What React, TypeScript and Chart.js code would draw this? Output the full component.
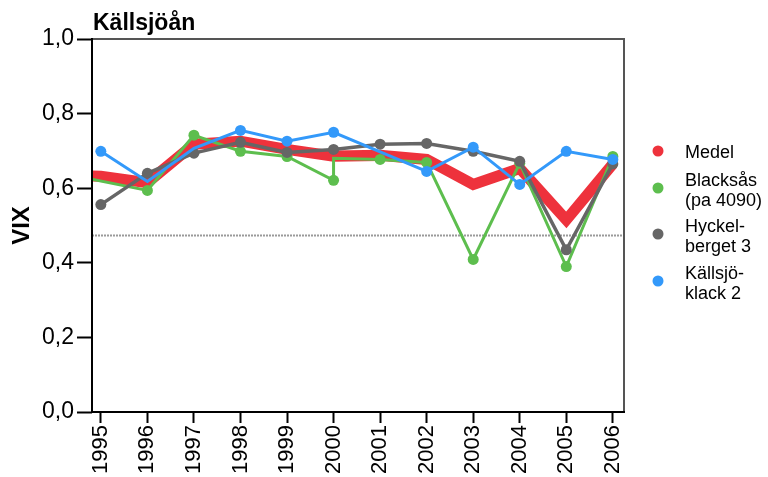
import React, { useEffect, useRef } from "react";
import { Chart, registerables } from "chart.js";

Chart.register(...registerables);

const titleText = "Källsjöån";
const yTitle = "VIX";
const tickYears = [1995, 1996, 1997, 1998, 1999, 2000, 2001, 2002, 2003, 2004, 2005, 2006];
const yTicks = [0, 0.2, 0.4, 0.6, 0.8, 1.0];

const medelYears = [1994, 1995, 1996, 1997, 1998, 1999, 2000, 2001, 2002, 2003, 2004, 2005, 2006];
const medelValues = [0.636, 0.632, 0.615, 0.718, 0.726, 0.704, 0.686, 0.688, 0.677, 0.61, 0.653, 0.515, 0.665];

const blackYears = [1994, 1996, 1997, 1998, 1999, 2000, 2000, 2001, 2002, 2003, 2004, 2005, 2006];
const blackValues = [0.644, 0.594, 0.742, 0.699, 0.685, 0.621, 0.68, 0.677, 0.669, 0.409, 0.667, 0.39, 0.685];
const blackMarkers = [false, true, true, true, true, true, false, true, true, true, true, true, true];

const hyckYears = [1995, 1996, 1997, 1998, 1999, 2000, 2001, 2002, 2003, 2004, 2005, 2006];
const hyckValues = [0.556, 0.64, 0.694, 0.723, 0.696, 0.704, 0.718, 0.72, 0.699, 0.672, 0.435, 0.665];

const kallYears = [1995, 1996, 1997, 1998, 1999, 2000, 2002, 2003, 2004, 2005, 2006];
const kallValues = [0.699, 0.618, 0.707, 0.755, 0.726, 0.75, 0.645, 0.71, 0.61, 0.699, 0.677];
const kallMarkers = [true, false, false, true, true, true, true, true, true, true, true];

const refLineValue = 0.473;
const xMin = 1994.81;
const xMax = 2006.24;

const legendItems = [
  { lines: ["Medel"], color: "#EE323C" },
  { lines: ["Blacksås", "(pa 4090)"], color: "#5DBE4E" },
  { lines: ["Hyckel-", "berget 3"], color: "#666666" },
  { lines: ["Källsjö-", "klack 2"], color: "#3399FA" },
];

const FONT = "'Liberation Sans', Arial, sans-serif";

function pts(xs: number[], ys: number[]) {
  return xs.map((x, i) => ({ x, y: ys[i] }));
}

export default function App() {
  const ref = useRef<HTMLCanvasElement | null>(null);
  useEffect(() => {
    if (!ref.current) return;
    const overlay = {
      id: "overlay",
      afterDraw(chart: any) {
        const { ctx, chartArea } = chart;
        const { left, right, top, bottom } = chartArea;
        ctx.save();
        ctx.lineWidth = 2;
        ctx.strokeStyle = "#555555";
        ctx.beginPath();
        ctx.moveTo(left, top);
        ctx.lineTo(right, top);
        ctx.lineTo(right, bottom);
        ctx.stroke();
        ctx.strokeStyle = "#000000";
        ctx.beginPath();
        ctx.moveTo(left, top - 1);
        ctx.lineTo(left, bottom);
        ctx.lineTo(right + 1, bottom);
        ctx.stroke();
        ctx.fillStyle = "#000";
        ctx.font = `bold 23px ${FONT}`;
        ctx.textAlign = "left";
        ctx.textBaseline = "alphabetic";
        ctx.fillText(titleText, 93, 30);
        ctx.font = `18px ${FONT}`;
        ctx.textBaseline = "middle";
        const starts = [153, 181, 227, 274];
        legendItems.forEach((it, i) => {
          const y0 = starts[i];
          const cy = y0 + ((it.lines.length - 1) * 20) / 2 - (it.lines.length > 1 ? 3 : 2);
          ctx.fillStyle = it.color;
          ctx.beginPath();
          ctx.arc(658, cy, 5.5, 0, Math.PI * 2);
          ctx.fill();
          ctx.fillStyle = "#000";
          it.lines.forEach((l, j) => ctx.fillText(l, 685, y0 + j * 20));
        });
        ctx.restore();
      },
    };
    const chart = new Chart(ref.current, {
      type: "line",
      data: {
        datasets: [
          {
            label: "ref",
            data: [{ x: xMin, y: refLineValue }, { x: xMax, y: refLineValue }],
            borderColor: "#9a9a9a",
            borderWidth: 2,
            borderDash: [2, 1],
            pointRadius: 0,
            order: 5,
          },
          {
            label: "Medel",
            data: pts(medelYears, medelValues),
            borderColor: legendItems[0].color,
            borderWidth: 11,
            pointRadius: 0,
            order: 4,
          },
          {
            label: "Blacksås",
            data: pts(blackYears, blackValues),
            borderColor: legendItems[1].color,
            backgroundColor: legendItems[1].color,
            borderWidth: 3,
            pointRadius: blackMarkers.map((m) => (m ? 5.5 : 0)),
            pointBorderWidth: 0,
            order: 3,
          },
          {
            label: "Hyckelberget 3",
            data: pts(hyckYears, hyckValues),
            borderColor: legendItems[2].color,
            backgroundColor: legendItems[2].color,
            borderWidth: 3.5,
            pointRadius: 5.5,
            pointBorderWidth: 0,
            order: 2,
          },
          {
            label: "Källsjöklack 2",
            data: pts(kallYears, kallValues),
            borderColor: legendItems[3].color,
            backgroundColor: legendItems[3].color,
            borderWidth: 3,
            pointRadius: kallMarkers.map((m) => (m ? 5.5 : 0)),
            pointBorderWidth: 0,
            order: 1,
          },
        ],
      },
      options: {
        animation: false,
        responsive: false,
        maintainAspectRatio: false,
        layout: { padding: { left: 0, right: 144, top: 39, bottom: 0 } },
        plugins: { legend: { display: false }, tooltip: { enabled: false } },
        elements: { line: { tension: 0 } },
        scales: {
          x: {
            type: "linear",
            min: xMin,
            max: xMax,
            afterBuildTicks: (s: any) => {
              s.ticks = tickYears.map((v) => ({ value: v }));
            },
            afterFit: (s: any) => {
              s.height = 65;
            },
            border: { display: false },
            grid: { display: true, drawOnChartArea: false, drawTicks: true, tickLength: 11, tickColor: "#000", tickWidth: 2 },
            ticks: {
              autoSkip: false,
              minRotation: 90,
              maxRotation: 90,
              padding: 2,
              color: "#000",
              font: { family: FONT, size: 22 },
              callback: (v: any) => String(v),
            },
          },
          y: {
            min: 0,
            max: 1,
            afterBuildTicks: (s: any) => {
              s.ticks = yTicks.map((v) => ({ value: v }));
            },
            afterFit: (s: any) => {
              s.width = 92;
            },
            border: { display: false },
            grid: { display: true, drawOnChartArea: false, drawTicks: true, tickLength: 15, tickColor: "#000", tickWidth: 2 },
            ticks: {
              padding: 3,
              color: "#000",
              font: { family: FONT, size: 23 },
              callback: (v: any) => Number(v).toFixed(1).replace(".", ","),
            },
            title: {
              display: true,
              text: yTitle,
              color: "#000",
              font: { family: FONT, size: 24, weight: "bold" },
              padding: { top: 8, bottom: 0 },
            },
          },
        },
      },
      plugins: [overlay],
    } as any);
    return () => chart.destroy();
  }, []);
  return (
    <div style={{ position: "fixed", left: 0, top: 0, width: 768, height: 477, background: "#fff" }}>
      <canvas ref={ref} width={768} height={477} style={{ width: 768, height: 477 }} />
    </div>
  );
}
